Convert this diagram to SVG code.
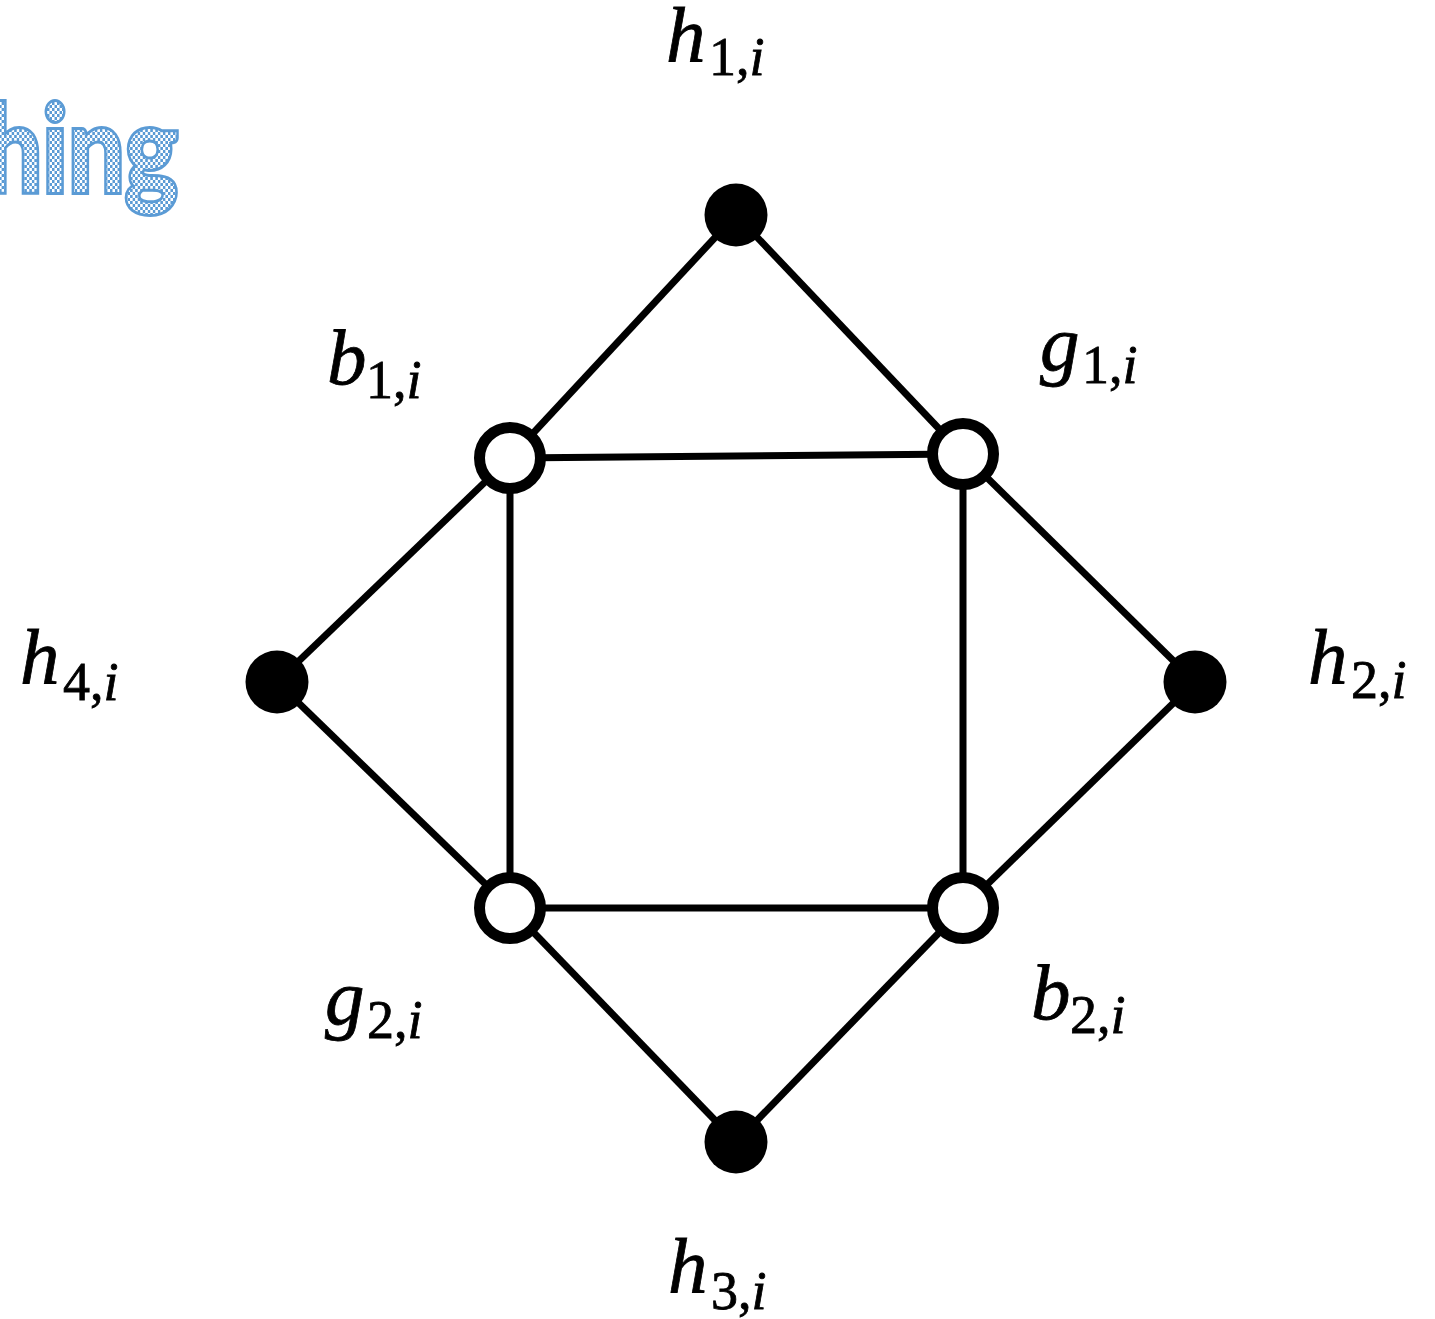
<svg xmlns="http://www.w3.org/2000/svg" width="1435" height="1319" viewBox="0 0 1435 1319">
<defs>
<pattern id="chk" width="6" height="6" patternUnits="userSpaceOnUse">
<rect width="6" height="6" fill="#ffffff"/>
<rect width="3" height="3" fill="#5b9bd5"/>
<rect x="3" y="3" width="3" height="3" fill="#5b9bd5"/>
</pattern>
</defs>
<style>
.e{stroke:#000;stroke-width:7;fill:none}
.f{fill:#000}
.o{fill:#fff;stroke:#000;stroke-width:11}
.m{font-family:"Liberation Serif",serif;font-style:italic;font-size:79px;fill:#000;stroke:#000;stroke-width:0.8}
.s{font-family:"Liberation Serif",serif;font-style:normal;font-size:54px}
.si{font-family:"Liberation Serif",serif;font-style:italic;font-size:54px}
.t{font-family:Lato,"Open Sans",sans-serif;font-weight:bold;font-size:120px;fill:url(#chk);stroke:#5b9bd5;stroke-width:6;paint-order:stroke}
</style>
<text class="t" transform="translate(178,192) scale(0.84,1)" x="0" y="0" text-anchor="end">hing</text>
<g id="connectors">
<line class="e" x1="736" y1="215" x2="510" y2="458"/>
<line class="e" x1="736" y1="215" x2="963" y2="454"/>
<line class="e" x1="510" y1="458" x2="963" y2="454"/>
<line class="e" x1="510" y1="458" x2="277" y2="682"/>
<line class="e" x1="510" y1="458" x2="510" y2="908"/>
<line class="e" x1="963" y1="454" x2="1195" y2="682"/>
<line class="e" x1="963" y1="454" x2="963" y2="908"/>
<line class="e" x1="277" y1="682" x2="510" y2="908"/>
<line class="e" x1="1195" y1="682" x2="963" y2="908"/>
<line class="e" x1="510" y1="908" x2="963" y2="908"/>
<line class="e" x1="510" y1="908" x2="736" y2="1142"/>
<line class="e" x1="963" y1="908" x2="736" y2="1142"/>
</g>
<g id="h1"><circle class="f" cx="736" cy="215" r="31.5"/><text class="m" x="666" y="62">h<tspan class="s" x="709" y="75">1,</tspan><tspan class="si">i</tspan></text></g>
<g id="h2"><circle class="f" cx="1195" cy="682" r="31.5"/><text class="m" x="1308" y="684">h<tspan class="s" x="1351" y="698">2,</tspan><tspan class="si">i</tspan></text></g>
<g id="h3"><circle class="f" cx="736" cy="1142" r="31.5"/><text class="m" x="668" y="1293">h<tspan class="s" x="711" y="1309">3,</tspan><tspan class="si">i</tspan></text></g>
<g id="h4"><circle class="f" cx="277" cy="682" r="31.5"/><text class="m" x="20" y="684">h<tspan class="s" x="63" y="700">4,</tspan><tspan class="si">i</tspan></text></g>
<g id="b1"><circle class="o" cx="510" cy="458" r="30.5"/><text class="m" x="327" y="384">b<tspan class="s" x="366" y="398">1,</tspan><tspan class="si">i</tspan></text></g>
<g id="g1"><circle class="o" cx="963" cy="454" r="30.5"/><text class="m" x="1040" y="370">g<tspan class="s" x="1082" y="383">1,</tspan><tspan class="si">i</tspan></text></g>
<g id="g2"><circle class="o" cx="510" cy="908" r="30.5"/><text class="m" x="325" y="1024">g<tspan class="s" x="367" y="1038">2,</tspan><tspan class="si">i</tspan></text></g>
<g id="b2"><circle class="o" cx="963" cy="908" r="30.5"/><text class="m" x="1031" y="1019">b<tspan class="s" x="1070" y="1033">2,</tspan><tspan class="si">i</tspan></text></g>
</svg>
